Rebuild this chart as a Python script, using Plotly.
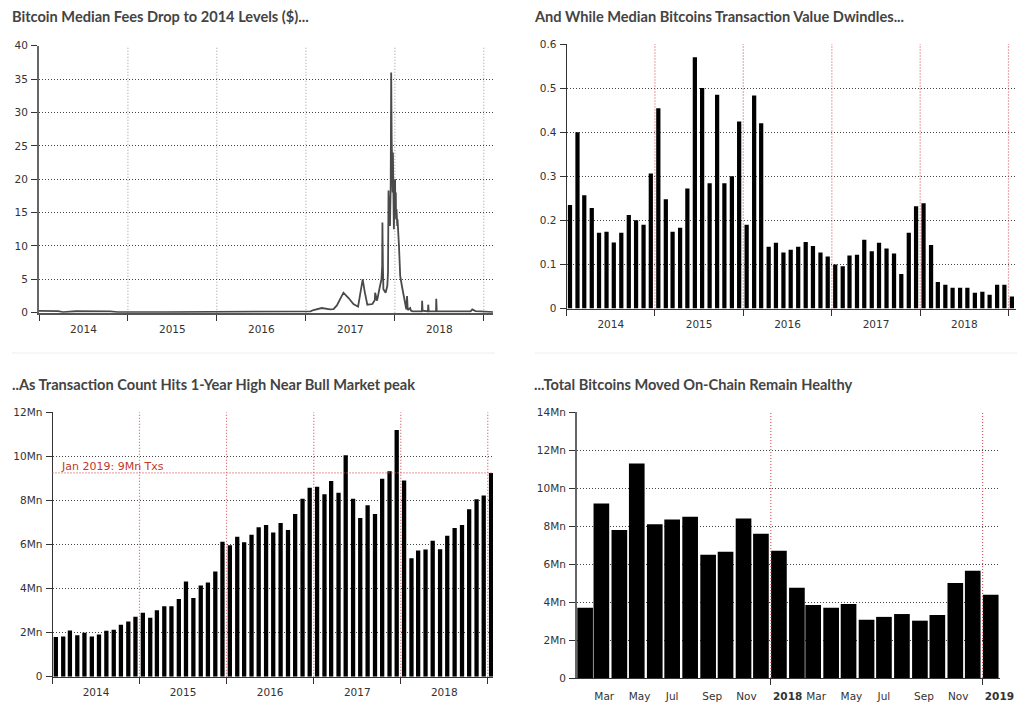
import pandas as pd
import plotly.graph_objects as go

W, H = 1024, 714

# ---------- data ----------
fee_dates = [
    "2014-01-01","2014-03-20","2014-04-10","2014-06-01","2014-10-20","2014-11-20","2015-06-01","2015-12-31",
    "2016-03-15","2016-12-20","2017-01-20","2017-02-01","2017-03-07","2017-04-10","2017-04-24","2017-05-08",
    "2017-05-20","2017-06-04","2017-06-25","2017-07-15","2017-08-03","2017-08-12","2017-08-17","2017-08-22",
    "2017-08-30","2017-09-10","2017-10-01","2017-10-11","2017-10-12","2017-10-20","2017-11-01","2017-11-07",
    "2017-11-10","2017-11-11","2017-11-13","2017-11-15","2017-11-24","2017-12-01","2017-12-04","2017-12-06",
    "2017-12-08","2017-12-10","2017-12-12","2017-12-15","2017-12-17","2017-12-19","2017-12-21","2017-12-22",
    "2017-12-23","2017-12-24","2017-12-25","2017-12-28","2017-12-30","2018-01-02","2018-01-03","2018-01-05",
    "2018-01-06","2018-01-08","2018-01-11","2018-01-12","2018-01-18","2018-01-23","2018-01-30","2018-02-06",
    "2018-02-12","2018-02-17","2018-02-20","2018-02-23","2018-03-05","2018-03-08","2018-03-15","2018-04-22",
    "2018-04-23","2018-04-25","2018-05-17","2018-05-18","2018-05-20","2018-06-19","2018-06-20","2018-06-22",
    "2018-10-20","2018-11-08","2018-11-15","2018-11-28","2018-12-20","2019-01-21","2019-02-08",
]
fee_values = [
    0.28,0.25,0.1,0.22,0.2,0.1,0.08,0.1,
    0.18,0.2,0.2,0.4,0.7,0.5,0.55,1.1,
    2.0,3.0,2.2,1.3,0.9,2.8,3.5,5.0,
    3.2,1.2,1.3,1.9,3.0,1.8,4.0,5.0,
    7.0,13.5,7.0,3.5,3.0,4.0,6.0,18.3,
    13.0,17.5,13.0,19.0,36.0,26.0,20.0,24.0,
    18.0,24.0,20.0,12.5,16.0,20.0,15.5,18.0,
    14.0,15.5,13.0,14.0,10.0,5.5,4.0,2.5,
    1.3,0.5,2.5,0.4,0.7,0.3,0.2,0.2,
    1.8,0.3,0.2,1.2,0.25,0.2,2.1,0.2,
    0.2,0.2,0.5,0.25,0.2,0.1,0.1,
]

value_btc = [
    .235,.40,.257,.228,.172,.174,.15,.172,.212,.2,.19,.306,
    .454,.248,.174,.183,.272,.57,.50,.284,.485,.284,.30,.424,
    .19,.483,.42,.14,.149,.127,.133,.14,.151,.142,.127,.118,
    .10,.096,.12,.122,.156,.13,.149,.136,.125,.078,.172,.232,
    .239,.144,.06,.054,.047,.047,.047,.036,.038,.031,.054,.054,
    .027,
]
tx_count_mn = [
    1.8,1.82,2.1,1.88,2.0,1.83,1.92,2.08,2.13,2.36,2.5,2.72,
    2.9,2.67,3.02,3.2,3.2,3.53,4.32,3.57,4.14,4.28,4.78,6.13,
    5.97,6.35,6.1,6.44,6.78,6.88,6.55,6.98,6.66,7.38,8.08,8.58,
    8.62,8.28,8.88,8.35,10.05,8.08,7.2,7.78,7.38,8.98,9.32,11.2,
    8.9,5.38,5.73,5.77,6.17,5.78,6.4,6.75,6.88,7.6,8.05,8.22,
    9.25,
]
moved_mn = [3.7,9.2,7.8,11.3,8.1,8.35,8.5,6.5,6.65,8.4,7.6,6.7,
            4.75,3.85,3.7,3.9,3.07,3.22,3.37,3.02,3.32,5.0,5.65,4.38]

months_long = pd.date_range("2014-01-01", periods=61, freq="MS") + pd.Timedelta(days=14)
months_short = pd.date_range("2017-02-01", periods=24, freq="MS") + pd.Timedelta(days=14)

tx_reference = 9.25
tx_note = "Jan 2019: 9Mn Txs"
titles = [
    "Bitcoin Median Fees Drop to 2014 Levels ($)...",
    "And While Median Bitcoins Transaction Value Dwindles...",
    "..As Transaction Count Hits 1-Year High Near Bull Market peak",
    "...Total Bitcoins Moved On-Chain Remain Healthy",
]
p1_ticks = [0,5,10,15,20,25,30,35,40]
p2_ticks = [0,.1,.2,.3,.4,.5,.6]
p2_text = ["0","0.1","0.2","0.3","0.4","0.5","0.6"]
p3_ticks = [0,2,4,6,8,10,12]
p3_text = ["0","2Mn","4Mn","6Mn","8Mn","10Mn","12Mn"]
p4_ticks = [0,2,4,6,8,10,12,14]
p4_text = ["0","2Mn","4Mn","6Mn","8Mn","10Mn","12Mn","14Mn"]
p4_label_dates = ["2017-03-20","2017-05-20","2017-07-15","2017-09-22","2017-11-20","2018-01-30",
                  "2018-03-20","2018-05-20","2018-07-15","2018-09-22","2018-11-20","2019-01-30"]
p4_labels = ["Mar","May","Jul","Sep","Nov","<b>2018</b>","Mar","May","Jul","Sep","Nov","<b>2019</b>"]
p4_years = ["2018-01-01","2019-01-01"]
long_years = ["2015-01-01","2016-01-01","2017-01-01","2018-01-01","2019-01-01"]

# ---------- style ----------
TICK = dict(family="DejaVu Sans", size=10.5, color="#333")
GRID = "#444"
RED = "#d65a64"
RED_TEXT = "#c0392b"
DOTS = "1px,2px"
RED_DOTS = "1px,2px"
MS_DAY = 86400000

# panel boxes in pixels: left, right, top, bottom
BOX = [(39, 493, 45.7, 312.7), (566.6, 1016, 44, 308.5), (52.5, 493, 412.3, 676.7), (577, 1000, 412.3, 678)]


def dom_x(a, b):
    return [a / W, b / W]


def dom_y(top, bottom):
    return [1 - bottom / H, 1 - top / H]


def year_axis(box, rng):
    return dict(domain=dom_x(box[0], box[1]), type="date", range=rng, tick0="2014-01-01", dtick="M12",
                tickformat="%Y", ticklabelmode="period", ticks="outside", ticklen=6, tickcolor="#333",
                showline=True, linecolor="#333", linewidth=1, showgrid=False,
                tickfont=TICK, zeroline=False, automargin=False)


def val_axis(box, rng, ticks, text, anchor, linecolor="#333", linewidth=1):
    return dict(domain=dom_y(box[2], box[3]), range=rng, tickmode="array", tickvals=ticks, ticktext=text,
                ticks="outside", ticklen=6, tickcolor="#333", showline=True, linecolor=linecolor,
                linewidth=linewidth, showgrid=True, gridcolor=GRID, griddash=DOTS, gridwidth=1,
                tickfont=TICK, zeroline=False, anchor=anchor, ticklabelstandoff=1, automargin=False)


fig = go.Figure()
fig.add_trace(go.Scatter(x=fee_dates, y=fee_values, mode="lines", xaxis="x", yaxis="y",
                         line=dict(color="#4a4a4a", width=1.8)))
fig.add_trace(go.Bar(x=months_long, y=value_btc, xaxis="x2", yaxis="y2", marker_color="#000",
                     marker_line_width=0, width=17.5 * MS_DAY))
fig.add_trace(go.Bar(x=months_long, y=tx_count_mn, xaxis="x3", yaxis="y3", marker_color="#000",
                     marker_line_width=0, width=18 * MS_DAY))
fig.add_trace(go.Bar(x=months_short, y=moved_mn, xaxis="x4", yaxis="y4", marker_color="#000",
                     marker_line_width=0, width=27 * MS_DAY))

x4 = dict(domain=dom_x(BOX[3][0], BOX[3][1]), type="date", range=["2017-02-01", "2019-01-31"], tickmode="array",
          tickvals=p4_label_dates, ticktext=p4_labels, ticks="", tickfont=TICK, showgrid=False,
          showline=True, linecolor="#333", linewidth=1, zeroline=False, ticklabelstandoff=8, automargin=False,
          minor=dict(tickmode="array", tickvals=p4_years, ticks="outside", ticklen=6, tickcolor="#333",
                     showgrid=False))

fig.update_layout(
    width=W, height=H, margin=dict(l=0, r=0, t=0, b=0), paper_bgcolor="#fff", plot_bgcolor="#fff",
    showlegend=False, font=dict(family="DejaVu Sans"),
    xaxis=dict(year_axis(BOX[0], ["2014-01-01", "2019-02-08"]), anchor="y", linewidth=2, linecolor="#555"),
    yaxis=val_axis(BOX[0], [0, 40], p1_ticks, [str(t) for t in p1_ticks], "x", "#666", 2),
    xaxis2=dict(year_axis(BOX[1], ["2014-01-01", "2019-02-01"]), anchor="y2"),
    yaxis2=val_axis(BOX[1], [0, 0.6], p2_ticks, p2_text, "x2"),
    xaxis3=dict(year_axis(BOX[2], ["2014-01-01", "2019-01-23"]), anchor="y3"),
    yaxis3=val_axis(BOX[2], [0, 12], p3_ticks, p3_text, "x3"),
    xaxis4=dict(x4, anchor="y4"),
    yaxis4=val_axis(BOX[3], [0, 14], p4_ticks, p4_text, "x4", "#666", 2),
)

# year guide lines
for ref, years, color, dash, layer in [("", long_years, "#aaa", DOTS, "below"),
                                       ("2", long_years, RED, RED_DOTS, "above"),
                                       ("3", long_years, RED, RED_DOTS, "above"),
                                       ("4", p4_years, RED, RED_DOTS, "above")]:
    for yr in years:
        fig.add_shape(type="line", xref="x" + ref, yref="y%s domain" % ref, x0=yr, x1=yr, y0=0, y1=1,
                      layer=layer, line=dict(color=color, width=1.2, dash=dash))

title_refs = ["", "2", "3", "4"]
for text, x, y, box, ref in zip(titles, [10, 532, 10, 532], [16, 16, 384, 384], BOX, title_refs):
    fig.add_annotation(text="<b>%s</b>" % text, xref="x%s domain" % ref, yref="y%s domain" % ref,
                       x=(x - box[0]) / (box[1] - box[0]), y=1 + (box[2] - y) / (box[3] - box[2]),
                       xanchor="left", yanchor="middle", showarrow=False,
                       font=dict(family="Lato", size=14.6, color="#444"))

fig.add_shape(type="line", xref="x3 domain", yref="y3", x0=0, x1=1, y0=tx_reference, y1=tx_reference,
              line=dict(color=RED, width=1.2, dash=RED_DOTS))
fig.add_annotation(text=tx_note, xref="x3 domain", yref="y3", x=0.014, y=tx_reference, xanchor="left",
                   yanchor="bottom", showarrow=False, yshift=-2,
                   font=dict(family="DejaVu Sans", size=11, color=RED_TEXT))

for a, b in [(12, 495), (535, 1017)]:
    fig.add_shape(type="line", xref="paper", yref="paper", x0=a / W, x1=b / W, y0=1 - 353 / H, y1=1 - 353 / H,
                  line=dict(color="#eeeeee", width=1))

fig.write_html("out.html", post_script="document.body.style.margin='0';",
               config={"displayModeBar": False})
